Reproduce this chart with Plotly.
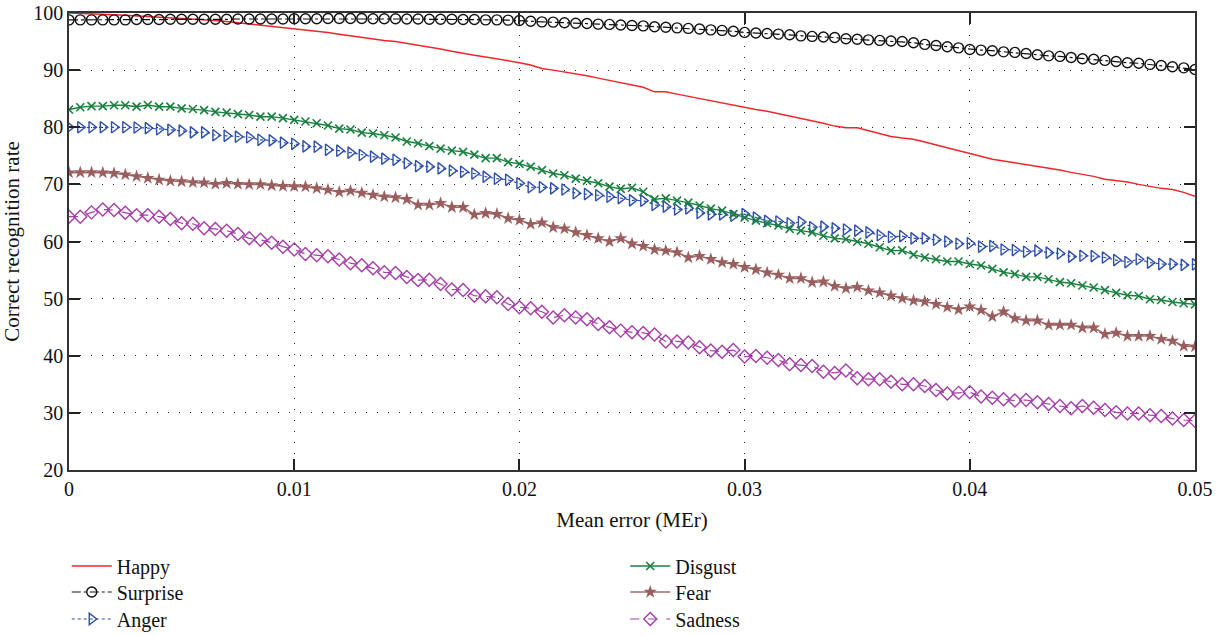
import plotly.graph_objects as go

# x: mean error (MEr), 101 samples from 0 to 0.05
mer = [round(i * 0.0005, 4) for i in range(101)]

happy = [100, 99.95, 99.9, 99.8, 99.7, 99.6, 99.5, 99.4, 99.3, 99.2,
         99.1, 99.0, 98.9, 98.7, 98.5, 98.3, 98.1, 97.9, 97.7, 97.5,
         97.3, 97.1, 96.9, 96.6, 96.3, 96.0, 95.8, 95.5, 95.2, 95.0,
         94.7, 94.4, 94.1, 93.7, 93.3, 92.9, 92.6, 92.3, 92.0, 91.7,
         91.3, 90.9, 90.3, 90.0, 89.7, 89.3, 89.0, 88.6, 88.2, 87.8,
         87.4, 87.0, 86.2, 86.2, 85.8, 85.4, 85.0, 84.7, 84.3, 83.8,
         83.4, 83.1, 82.8, 82.4, 81.9, 81.5, 81.2, 80.7, 80.2, 79.9,
         79.9, 79.4, 78.9, 78.4, 78.1, 77.9, 77.4, 76.9, 76.3, 75.9,
         75.3, 74.8, 74.4, 74.1, 73.8, 73.4, 73.1, 72.8, 72.5, 72.1,
         71.8, 71.4, 70.9, 70.7, 70.4, 70.0, 69.6, 69.3, 69.1, 68.6, 67.9]

surprise = [98.8, 98.8, 98.8, 98.8, 98.8, 98.8, 98.85, 98.85, 98.85, 98.9,
            98.9, 98.9, 98.9, 98.9, 98.9, 98.95, 98.95, 98.95, 98.95, 98.95,
            99.0, 99.0, 99.0, 99.05, 99.05, 99.05, 99.05, 99.0, 99.0, 99.0,
            98.95, 98.95, 98.9, 98.9, 98.9, 98.85, 98.85, 98.8, 98.8, 98.75,
            98.7, 98.55, 98.45, 98.4, 98.3, 98.2, 98.15, 98.05, 98.0, 97.9,
            97.8, 97.75, 97.6, 97.5, 97.4, 97.3, 97.2, 97.05, 96.95, 96.8,
            96.6, 96.5, 96.4, 96.3, 96.2, 96.0, 95.9, 95.8, 95.7, 95.5,
            95.4, 95.3, 95.2, 95.1, 95.0, 94.8, 94.5, 94.3, 94.1, 93.9,
            93.6, 93.5, 93.4, 93.2, 93.1, 92.9, 92.7, 92.5, 92.4, 92.2,
            92.0, 91.9, 91.7, 91.5, 91.3, 91.2, 91.0, 90.8, 90.6, 90.4, 90.1]

anger = [80.0, 80.0, 80.0, 80.0, 80.0, 80.0, 79.95, 79.85, 79.65, 79.55,
         79.4, 79.1, 79.1, 78.6, 78.5, 78.35, 78.25, 77.8, 77.7, 77.3,
         77.1, 76.65, 76.6, 76.05, 75.9, 75.55, 75.15, 74.85, 74.5, 74.3,
         73.7, 73.2, 73.1, 72.8, 72.4, 72.2, 71.9, 71.35, 71.0, 70.8,
         70.2, 69.5, 69.5, 69.3, 69.1, 68.45, 68.3, 68.1, 67.85, 67.6,
         67.2, 67.15, 66.4, 66.1, 65.6, 65.8, 65.0, 64.75, 64.75, 64.5,
         64.8, 64.2, 63.6, 63.5, 63.2, 63.4, 62.5, 62.6, 62.3, 62.1,
         61.9, 61.6, 61.1, 60.8, 60.95, 60.55, 60.55, 60.3, 60.0, 59.6,
         59.7, 59.1, 59.2, 58.6, 58.5, 58.2, 58.4, 58.05, 57.9, 57.35,
         57.5, 57.45, 57.2, 56.75, 56.4, 56.9, 56.3, 56.05, 56.05, 55.9, 56.0]

disgust = [83.1, 83.5, 83.7, 83.7, 83.85, 83.85, 83.6, 83.9, 83.6, 83.6,
           83.3, 83.2, 83.0, 82.7, 82.55, 82.3, 82.15, 81.85, 81.85, 81.6,
           81.3, 81.0, 80.7, 80.3, 79.75, 79.6, 79.05, 78.9, 78.6, 78.2,
           77.5, 77.2, 76.7, 76.25, 75.9, 75.7, 75.2, 74.6, 74.6, 73.9,
           73.6, 73.1, 72.5, 71.9, 71.6, 71.0, 70.65, 70.2, 69.6, 69.2,
           69.4, 68.7, 67.4, 67.55, 67.15, 66.8, 66.3, 65.75, 65.4, 64.8,
           64.2, 63.65, 63.2, 62.8, 62.2, 61.9, 61.6, 61.0, 60.55, 60.4,
           59.96, 59.6, 59.0, 58.4, 58.45, 57.7, 57.2, 56.9, 56.5, 56.5,
           56.06, 55.8, 55.2, 54.6, 54.3, 53.8, 53.8, 53.4, 52.9, 52.7,
           52.3, 51.95, 51.5, 51.0, 50.6, 50.45, 49.9, 49.75, 49.4, 49.2, 49.0]

fear = [72.05, 72.1, 72.1, 72.05, 71.95, 71.7, 71.4, 71.1, 70.8, 70.6,
        70.5, 70.35, 70.3, 70.05, 70.2, 70.05, 70.0, 70.0, 69.8, 69.7,
        69.65, 69.6, 69.3, 69.05, 68.65, 68.85, 68.5, 68.15, 67.85, 67.7,
        67.4, 66.4, 66.4, 66.7, 66.0, 66.0, 64.7, 64.95, 64.8, 64.05,
        63.75, 63.05, 63.3, 62.5, 62.25, 61.6, 61.1, 60.55, 60.0, 60.55,
        59.6, 59.2, 58.6, 58.4, 58.1, 57.2, 57.45, 56.9, 56.35, 56.05,
        55.5, 55.1, 54.55, 54.15, 53.55, 53.55, 52.85, 52.95, 52.2, 51.8,
        52.0, 51.4, 51.05, 50.5, 50.05, 49.65, 49.5, 49.05, 48.5, 48.1,
        48.6, 48.0, 46.85, 47.7, 46.55, 46.15, 46.15, 45.4, 45.4, 45.4,
        44.9, 44.9, 43.8, 44.0, 43.45, 43.45, 43.45, 42.9, 42.6, 41.7, 41.6]

sadness = [64.35, 64.35, 65.1, 65.6, 65.5, 65.05, 64.6, 64.6, 64.35, 63.95,
           63.2, 63.1, 62.3, 62.2, 61.9, 61.3, 60.55, 60.3, 59.8, 59.1,
           58.6, 57.8, 57.6, 57.4, 56.85, 56.2, 55.85, 55.3, 54.6, 54.5,
           53.8, 53.25, 53.3, 52.55, 51.6, 51.5, 50.5, 50.4, 50.25, 49.05,
           48.5, 48.3, 47.7, 46.7, 47.1, 46.7, 46.4, 45.55, 45.0, 44.4,
           44.1, 44.0, 43.7, 42.5, 42.5, 42.3, 41.5, 40.9, 40.7, 41.0,
           39.85, 39.95, 39.65, 39.25, 38.5, 38.4, 38.2, 37.2, 37.0, 37.4,
           36.05, 35.9, 35.9, 35.45, 35.0, 35.0, 34.7, 34.0, 33.4, 33.5,
           33.6, 32.85, 32.65, 32.4, 32.15, 32.25, 31.85, 31.55, 31.2, 30.8,
           31.2, 30.9, 30.5, 30.1, 29.9, 29.9, 29.6, 29.45, 29.0, 28.75, 28.6]

x_ticks = [0, 0.01, 0.02, 0.03, 0.04, 0.05]
x_tick_labels = ["0", "0.01", "0.02", "0.03", "0.04", "0.05"]
y_ticks = [20, 30, 40, 50, 60, 70, 80, 90, 100]

FONT = "Liberation Serif"

fig = go.Figure()

fig.add_trace(go.Scatter(x=mer, y=happy, name="Happy", mode="lines", showlegend=True,
                         line=dict(color="#f2252a", width=1.5), legend="legend"))
fig.add_trace(go.Scatter(x=mer, y=surprise, name="Surprise", mode="lines+markers",
                         line=dict(color="#111111", width=1.2, dash="dashdot"),
                         marker=dict(symbol="circle-open", size=10, color="#111111",
                                     line=dict(width=1.4, color="#111111")),
                         legend="legend2"))
fig.add_trace(go.Scatter(x=mer, y=anger, name="Anger", mode="lines+markers",
                         line=dict(color="#2c4eac", width=1.2, dash="dot"),
                         marker=dict(symbol="triangle-right-open", size=10, color="#2c4eac",
                                     line=dict(width=1.4, color="#2c4eac")),
                         legend="legend3"))
fig.add_trace(go.Scatter(x=mer, y=disgust, name="Disgust", mode="lines+markers",
                         line=dict(color="#1a8040", width=1.4),
                         marker=dict(symbol="x-thin-open", size=8, color="#1a8040",
                                     line=dict(width=1.6, color="#1a8040")),
                         legend="legend4"))
fig.add_trace(go.Scatter(x=mer, y=fear, name="Fear", mode="lines+markers",
                         line=dict(color="#a06868", width=1.6),
                         marker=dict(symbol="star", size=10, color="#9a5e5e",
                                     line=dict(width=0)),
                         legend="legend5"))
fig.add_trace(go.Scatter(x=mer, y=sadness, name="Sadness", mode="lines+markers",
                         line=dict(color="#a43ea8", width=1.2, dash="dash"),
                         marker=dict(symbol="diamond-open", size=10, color="#a43ea8",
                                     line=dict(width=1.4, color="#a43ea8")),
                         legend="legend6"))

axis_common = dict(
    showline=True, linecolor="#333333", linewidth=1.5, mirror="ticks",
    ticks="inside", ticklen=11, tickwidth=1.5, tickcolor="#222222",
    showgrid=True, gridcolor="#222222", gridwidth=1, griddash="1px,10px",
    zeroline=False, automargin=False,
    tickfont=dict(family=FONT, size=20, color="#111111"),
)

legend_common = dict(
    yanchor="middle", xanchor="left", orientation="v", bgcolor="rgba(0,0,0,0)",
    font=dict(family=FONT, size=20, color="#111111"),
    tracegroupgap=0, itemwidth=40,
)

col1_x, col2_x = -0.002, 0.494
row_y = [-0.210, -0.267, -0.326]

fig.update_layout(
    width=1222, height=635,
    showlegend=True,
    paper_bgcolor="white", plot_bgcolor="white",
    margin=dict(l=69, r=27, t=13, b=165, autoexpand=False),
    font=dict(family=FONT, size=20, color="#111111"),
    xaxis=dict(range=[0, 0.05], tickvals=x_ticks, ticktext=x_tick_labels,
               title=dict(text="Mean error (MEr)", font=dict(family=FONT, size=21), standoff=14),
               **axis_common),
    yaxis=dict(range=[20, 100], tickvals=y_ticks,
               title=dict(text="Correct recognition rate", font=dict(family=FONT, size=21), standoff=8),
               **axis_common),
    legend=dict(x=col1_x, y=row_y[0], **legend_common),
    legend2=dict(x=col1_x, y=row_y[1], **legend_common),
    legend3=dict(x=col1_x, y=row_y[2], **legend_common),
    legend4=dict(x=col2_x, y=row_y[0], **legend_common),
    legend5=dict(x=col2_x, y=row_y[1], **legend_common),
    legend6=dict(x=col2_x, y=row_y[2], **legend_common),
)

fig.write_html("out.html", config={"displayModeBar": False},
               post_script="document.body.style.margin='0px';")
